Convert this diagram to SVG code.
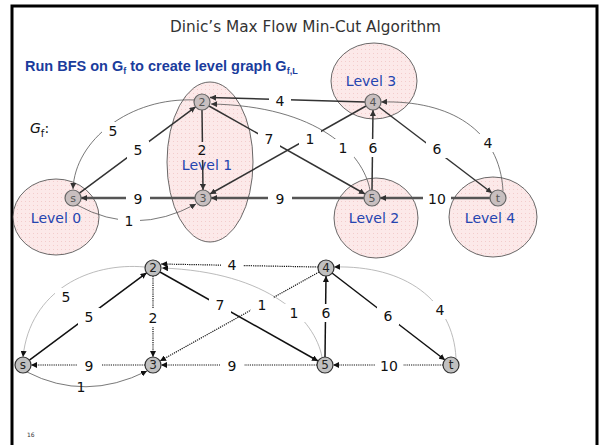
<svg xmlns="http://www.w3.org/2000/svg" width="600" height="445" viewBox="0 0 600 445">
<style>
.title{font-family:"DejaVu Sans",sans-serif;font-size:15px;fill:#333}
.sub{font-family:"Liberation Sans",sans-serif;font-weight:bold;font-size:14.5px;fill:#1a3c9c}
.lvl{fill:url(#pinkdots);stroke:#444;stroke-width:0.8}
.lvlt{font-family:"DejaVu Sans",sans-serif;font-size:14px;fill:#2545b0;text-anchor:middle}
.el{font-family:"DejaVu Sans",sans-serif;font-size:14px;fill:#111;text-anchor:middle}
.tn circle{fill:#c8bfbf;stroke:#666;stroke-width:1.2}
.tn text{font-family:"DejaVu Sans",sans-serif;font-size:11px;fill:#555;text-anchor:middle}
.bn circle{fill:#c0c0c0;stroke:#333;stroke-width:1.2}
.bn text{font-family:"DejaVu Sans",sans-serif;font-size:12px;fill:#222;text-anchor:middle}
.ts{fill:none;stroke:#333;stroke-width:1.5;marker-end:url(#at)}
.tk{fill:none;stroke:#555;stroke-width:2.6;marker-end:url(#at)}
.ta{fill:none;stroke:#555;stroke-width:0.8;marker-end:url(#at)}
.bs{fill:none;stroke:#111;stroke-width:1.5;marker-end:url(#ab)}
.bd{fill:none;stroke:#111;stroke-width:1.2;stroke-dasharray:1.2 1;marker-end:url(#ab)}
.ba{fill:none;stroke:#aaa;stroke-width:0.8;marker-end:url(#ab)}
.bad{fill:none;stroke:#555;stroke-width:0.8;marker-end:url(#ab)}
</style>
<defs>
<pattern id="pinkdots" width="4" height="4" patternUnits="userSpaceOnUse">
<rect width="4" height="4" fill="#fce9e9"/>
<rect x="1" y="1" width="1" height="1" fill="#f3cccc"/>
</pattern>
<marker id="at" viewBox="0 0 6 6" refX="6" refY="3" markerWidth="6" markerHeight="6" orient="auto" markerUnits="userSpaceOnUse">
<path d="M0,0 L6,3 L0,6 z" fill="#333"/>
</marker>
<marker id="ab" viewBox="0 0 6 6" refX="6" refY="3" markerWidth="6" markerHeight="6" orient="auto" markerUnits="userSpaceOnUse">
<path d="M0,0 L6,3 L0,6 z" fill="#111"/>
</marker>
<mask id="gap" maskUnits="userSpaceOnUse" x="0" y="0" width="600" height="445">
<rect width="600" height="445" fill="#fff"/>
<g fill="#000">
<rect x="127" y="141" width="22" height="18"/>
<rect x="102" y="122" width="22" height="18"/>
<rect x="193" y="142" width="18" height="18"/>
<rect x="258" y="130" width="22" height="18"/>
<rect x="269" y="93" width="22" height="16"/>
<rect x="332" y="139" width="22" height="18"/>
<rect x="299" y="130" width="22" height="18"/>
<rect x="362" y="139" width="22" height="18"/>
<rect x="426" y="140" width="22" height="18"/>
<rect x="477" y="134" width="22" height="18"/>
<rect x="126" y="190" width="24" height="18"/>
<rect x="268" y="190" width="24" height="18"/>
<rect x="423" y="190" width="28" height="18"/>
<rect x="118" y="212" width="22" height="18"/>
<rect x="78" y="308" width="22" height="18"/>
<rect x="55" y="288" width="22" height="18"/>
<rect x="144" y="309" width="18" height="18"/>
<rect x="209" y="296" width="22" height="18"/>
<rect x="221" y="258" width="22" height="14"/>
<rect x="283" y="304" width="22" height="18"/>
<rect x="251" y="296" width="22" height="18"/>
<rect x="315" y="304" width="22" height="18"/>
<rect x="377" y="307" width="22" height="18"/>
<rect x="429" y="301" width="22" height="18"/>
<rect x="77" y="357" width="24" height="18"/>
<rect x="220" y="357" width="24" height="18"/>
<rect x="375" y="357" width="28" height="18"/>
</g>
</mask>
</defs>
<rect width="600" height="445" fill="#fff"/>
<rect x="12" y="6" width="585" height="445" fill="none" stroke="#000" stroke-width="3"/>
<text class="title" x="170" y="32" textLength="271" lengthAdjust="spacingAndGlyphs">Dinic’s Max Flow Min-Cut Algorithm</text>
<text class="sub" x="25" y="71">Run BFS on G<tspan font-size="9" dy="3">f</tspan><tspan dy="-3"> to create level graph G</tspan><tspan font-size="9" dy="3">f,L</tspan></text>
<text x="30" y="133" font-family="DejaVu Sans,sans-serif" font-size="14" font-style="italic" fill="#111">G<tspan font-size="10" dy="4" font-style="normal">f</tspan><tspan dy="-4" font-style="normal">:</tspan></text>

<g id="level0"><ellipse class="lvl" cx="56" cy="217" rx="43" ry="38"/><text class="lvlt" x="56" y="223">Level 0</text></g>
<g id="level1"><ellipse class="lvl" cx="210" cy="162" rx="43" ry="80"/><text class="lvlt" x="207" y="170">Level 1</text></g>
<g id="level3"><ellipse class="lvl" cx="374" cy="81" rx="43" ry="38"/><text class="lvlt" x="371" y="86">Level 3</text></g>
<g id="level2"><ellipse class="lvl" cx="376" cy="218" rx="42" ry="40"/><text class="lvlt" x="374" y="223">Level 2</text></g>
<g id="level4"><ellipse class="lvl" cx="493" cy="217" rx="44" ry="40"/><text class="lvlt" x="490" y="223">Level 4</text></g>

<g id="connectors">
<g mask="url(#gap)">
<line class="ts" x1="79.4" y1="193.2" x2="195.6" y2="106.8"/>
<path class="ta" d="M195,100 C130,97 75,140 73,189"/>
<line class="ts" x1="202" y1="110" x2="203" y2="190"/>
<line class="ts" x1="209" y1="106" x2="365" y2="194"/>
<line class="ts" x1="365" y1="102" x2="210" y2="97.5"/>
<path class="ta" d="M370,190 C363,153 318,106 211,104"/>
<line class="ts" x1="366" y1="106" x2="210" y2="194"/>
<line class="ts" x1="372" y1="190" x2="373" y2="110"/>
<line class="ts" x1="379" y1="107" x2="492" y2="193"/>
<path class="ta" d="M503,191 C500,130 450,100 381,102"/>
<line class="tk" x1="195" y1="198" x2="81" y2="198"/>
<line class="tk" x1="364" y1="198" x2="211" y2="198"/>
<line class="tk" x1="490" y1="198" x2="380" y2="198"/>
<path class="ta" d="M77,205 Q135,237 196,204"/>

<line class="bs" x1="29.4" y1="360.2" x2="146.6" y2="272.8"/>
<path class="ba" d="M145,267 C90,262 30,290 23,357"/>
<line class="bd" x1="153" y1="276" x2="153" y2="357"/>
<line class="bs" x1="160" y1="272" x2="318" y2="361"/>
<line class="bd" x1="318" y1="267" x2="161" y2="264"/>
<path class="ba" d="M322,357 C315,320 270,272 162,268"/>
<line class="bd" x1="319" y1="272" x2="160" y2="361"/>
<line class="bs" x1="325" y1="357" x2="326" y2="276"/>
<line class="bs" x1="332" y1="273" x2="445" y2="360"/>
<path class="ba" d="M456,358 C453,300 405,265 334,267"/>
<line class="bd" x1="145" y1="365" x2="31" y2="365"/>
<line class="bd" x1="317" y1="365" x2="161" y2="365"/>
<line class="bd" x1="443" y1="365" x2="333" y2="365"/>
<path class="bad" d="M27,372 Q85,402 147,371"/>
</g>
<g id="edge-labels">
<text class="el" x="138" y="155">5</text>
<text class="el" x="113" y="136">5</text>
<text class="el" x="202" y="155">2</text>
<text class="el" x="269" y="144">7</text>
<text class="el" x="280" y="106">4</text>
<text class="el" x="343" y="153">1</text>
<text class="el" x="310" y="144">1</text>
<text class="el" x="373" y="153">6</text>
<text class="el" x="437" y="154">6</text>
<text class="el" x="488" y="148">4</text>
<text class="el" x="138" y="204">9</text>
<text class="el" x="280" y="204">9</text>
<text class="el" x="437" y="204">10</text>
<text class="el" x="129" y="226">1</text>

<text class="el" x="89" y="322">5</text>
<text class="el" x="66" y="302">5</text>
<text class="el" x="153" y="323">2</text>
<text class="el" x="220" y="310">7</text>
<text class="el" x="232" y="270">4</text>
<text class="el" x="294" y="318">1</text>
<text class="el" x="262" y="310">1</text>
<text class="el" x="326" y="318">6</text>
<text class="el" x="388" y="321">6</text>
<text class="el" x="440" y="315">4</text>
<text class="el" x="89" y="371">9</text>
<text class="el" x="232" y="371">9</text>
<text class="el" x="389" y="371">10</text>
<text class="el" x="81" y="392">1</text>
</g>
</g>

<g id="top-s" class="tn"><circle cx="73" cy="198" r="8"/><text x="73" y="202">s</text></g>
<g id="top-2" class="tn"><circle cx="202" cy="102" r="8"/><text x="202" y="106">2</text></g>
<g id="top-3" class="tn"><circle cx="203" cy="198" r="8"/><text x="203" y="202">3</text></g>
<g id="top-4" class="tn"><circle cx="373" cy="102" r="8"/><text x="373" y="106">4</text></g>
<g id="top-5" class="tn"><circle cx="372" cy="198" r="8"/><text x="372" y="202">5</text></g>
<g id="top-t" class="tn"><circle cx="498" cy="198" r="8"/><text x="498" y="202">t</text></g>

<g id="bot-s" class="bn"><circle cx="23" cy="365" r="8"/><text x="23" y="369">s</text></g>
<g id="bot-2" class="bn"><circle cx="153" cy="268" r="8"/><text x="153" y="272">2</text></g>
<g id="bot-3" class="bn"><circle cx="153" cy="365" r="8"/><text x="153" y="369">3</text></g>
<g id="bot-4" class="bn"><circle cx="326" cy="268" r="8"/><text x="326" y="272">4</text></g>
<g id="bot-5" class="bn"><circle cx="325" cy="365" r="8"/><text x="325" y="369">5</text></g>
<g id="bot-t" class="bn"><circle cx="451" cy="365" r="8"/><text x="451" y="369">t</text></g>

<text x="27" y="437" font-family="DejaVu Sans,sans-serif" font-size="6" fill="#333">16</text>
</svg>
